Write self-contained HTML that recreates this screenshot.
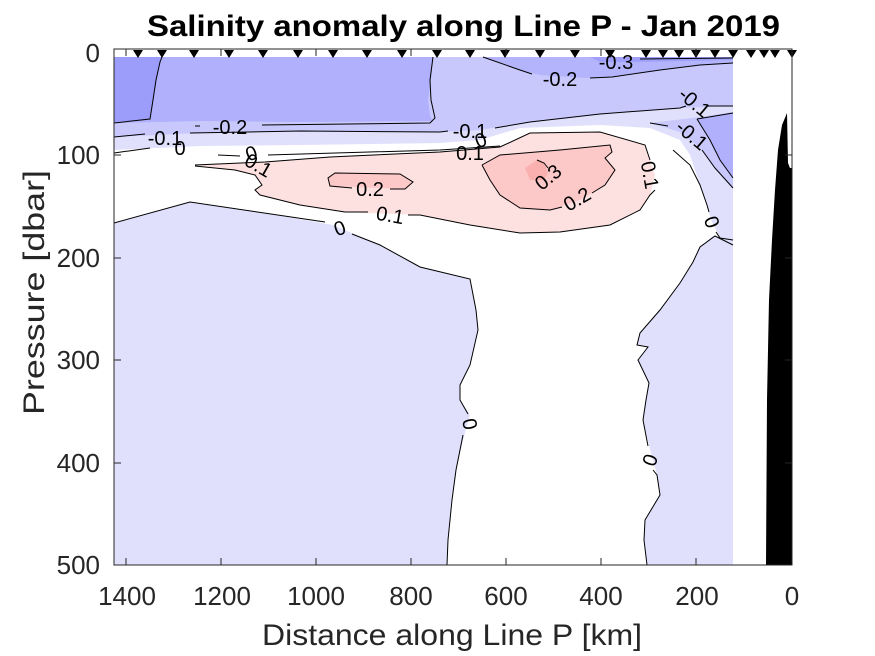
<!DOCTYPE html>
<html><head><meta charset="utf-8"><style>
html,body{margin:0;padding:0;background:#fff;}
svg{display:block;font-family:"Liberation Sans",Arial,sans-serif;}
</style></head><body>
<svg width="875" height="656" viewBox="0 0 875 656" xmlns="http://www.w3.org/2000/svg">
<rect width="875" height="656" fill="#fff"/>
<rect x="114" y="57" width="619" height="508" fill="#e0e0fc"/>
<polygon fill="#ffffff" points="114,150 200,146 300,145 440,143 480,140 520,128 600,125 650,128 680,140 690,155 700,185 712,222 720,238 713,236 700,247 693,262 680,283 660,310 640,333 637,345 648,347 638,360 649,383 646,400 643,420 651,453 657,475 660,495 645,520 644,540 647,565 447,565 448,540 452,500 456,470 463,440 470,415 460,400 460,385 470,365 478,330 476,310 470,279 420,267 380,245 333,225 260,212 190,202 114,223"/>
<polygon fill="#fde0e0" points="195,165 265,162 330,157 440,152 500,147 530,133 600,132 645,145 650,160 655,175 650,195 640,210 610,225 560,232 520,233 470,225 420,215 345,212 300,205 260,195 255,190 262,185 255,175 235,170"/>
<polygon fill="#fcc8c8" points="328,178 335,173 400,174 413,182 405,189 330,186"/>
<polygon fill="#fcc8c8" points="482,165 500,155 560,150 610,145 612,152 605,158 615,170 605,185 580,200 550,210 520,208 500,195 490,180"/>
<polygon fill="#fbb0b0" points="525,168 537,160 544,163 548,173 544,180 530,180"/>
<polygon fill="#c8c8fc" points="114,57 733,57 733,106 680,108 600,114 530,122 480,130 440,132 300,131 200,133 114,137"/>
<polygon fill="#c8c8fc" points="650,123 700,117 733,112 733,188 715,168 700,148 680,132"/>
<polygon fill="#b0b0fc" points="697,119 733,113 733,178 720,160 710,140"/>
<polygon fill="#b0b0fc" points="114,57 433,57 431,80 428,100 430,115 432,121 300,122 200,121 114,123"/>
<polygon fill="#b4b4fc" points="483,57 733,57 733,63 700,65 660,70 612,77 585,78 540,75 520,70"/>
<polygon fill="#9c9cfa" points="114,57 162,57 158,70 156,85 153,100 150,119 114,122"/>
<polygon fill="#a0a0fa" points="590,57 733,57 733,60 640,62 600,62"/>
<g fill="none" stroke="#000" stroke-width="1">
<polyline points="114,223 190,202 325,222"/>
<polyline points="352,234 380,245 420,267 470,279 476,310 478,330 470,365 460,385 460,400 468,414"/>
<polyline points="463,435 456,470 452,500 448,540 447,565"/>
<polyline points="733,245 715,236 700,247 693,262 680,283 660,310 640,333 637,345 648,347 638,360 649,383 646,400 643,420 648,446"/>
<polyline points="653,470 657,475 660,495 645,520 644,540 647,565"/>
<polyline points="673,150 690,165 700,185 707,205 709,212"/>
<polyline points="716,232 720,238 733,240"/>
<polyline points="195,165 265,162 330,157 440,152 500,147 530,133 600,132 645,145 650,160"/>
<polyline points="655,190 650,195 640,210 610,225 560,232 520,233 470,225 420,215 408,215"/>
<polyline points="368,212 345,212 300,205 260,195 255,190 262,185 255,175 235,170 195,166"/>
<polyline points="352,188 330,186 328,178 335,173 400,174 413,182 405,189 390,189"/>
<polyline points="482,165 500,155 560,150 610,145 612,152 605,158 615,170 605,185 592,193"/>
<polyline points="562,207 550,210 520,208 500,195 490,180 482,165"/>
<polyline points="537,160 544,163 548,168"/>
<polyline points="114,153 150,148"/>
<polyline points="218,155 240,156"/>
<polyline points="268,155 440,150 500,146"/>
<polyline points="114,137 145,134"/>
<polyline points="190,133 300,131 440,132 448,131"/>
<polyline points="495,128 530,122 600,114 680,108 686,106"/>
<polyline points="707,106 733,106"/>
<polyline points="650,123 668,126"/>
<polyline points="697,119 733,113"/>
<polyline points="697,119 710,140 720,160 733,178"/>
<polyline points="733,188 715,168 702,150"/>
<polyline points="114,123 150,119 153,100 156,80 160,62 162,57"/>
<polyline points="195,126 200,126"/>
<polyline points="262,125 430,123 435,118 431,100 430,80 433,57"/>
<polyline points="483,57 520,70 532,74"/>
<polyline points="590,78 612,77 660,70 700,65 733,63"/>
<polyline points="640,59 733,58"/>
</g>
<g font-size="20" fill="#000" text-anchor="middle">
<text x="165" y="145">-0.1</text>
<text x="230" y="134">-0.2</text>
<text x="180" y="155">0</text>
<text x="258" y="172" transform="rotate(30 258 166)">0.1</text>
<text x="252" y="160" transform="rotate(-20 252 155)">0</text>
<text x="370" y="196">0.2</text>
<text x="390" y="222" transform="rotate(10 390 216)">0.1</text>
<text x="340" y="235" transform="rotate(-20 340 229)">0</text>
<text x="470" y="138">-0.1</text>
<text x="481" y="147" transform="rotate(-20 481 141)">0</text>
<text x="470" y="160">0.1</text>
<text x="560" y="86">-0.2</text>
<text x="616" y="69">-0.3</text>
<text x="548" y="184" transform="rotate(-40 548 177)">0.3</text>
<text x="577" y="206" transform="rotate(-30 577 199)">0.2</text>
<text x="650" y="182" transform="rotate(80 650 175)">0.1</text>
<text x="694" y="109" transform="rotate(40 694 103)">-0.1</text>
<text x="692" y="142" transform="rotate(40 692 135)">-0.1</text>
<text x="712" y="229" transform="rotate(70 712 222)">0</text>
<text x="470" y="431" transform="rotate(80 470 424)">0</text>
<text x="650" y="467" transform="rotate(-70 650 460)">0</text>
</g>
<polygon fill="#000" points="787,113 788,163 790,168 792,168 792,565 766,565 767,400 769,300 772,240 775,190 778,150 782,125"/>
<g fill="#000">
<polygon points="133,50 143,50 138,58"/><polygon points="157,50 167,50 162,58"/><polygon points="189,50 199,50 194,58"/><polygon points="224,50 234,50 229,58"/><polygon points="258,50 268,50 263,58"/><polygon points="293,50 303,50 298,58"/><polygon points="328,50 338,50 333,58"/><polygon points="362,50 372,50 367,58"/><polygon points="397,50 407,50 402,58"/><polygon points="432,50 442,50 437,58"/><polygon points="465,50 475,50 470,58"/><polygon points="500,50 510,50 505,58"/><polygon points="535,50 545,50 540,58"/><polygon points="570,50 580,50 575,58"/><polygon points="605,50 615,50 610,58"/><polygon points="641,50 651,50 646,58"/><polygon points="658,50 668,50 663,58"/><polygon points="674,50 684,50 679,58"/><polygon points="691,50 701,50 696,58"/><polygon points="710,50 720,50 715,58"/><polygon points="728,50 738,50 733,58"/><polygon points="746,50 756,50 751,58"/><polygon points="759,50 769,50 764,58"/><polygon points="770,50 780,50 775,58"/><polygon points="787,50 797,50 792,58"/>
</g>
<g stroke="#262626" stroke-width="1" fill="none">
<rect x="114" y="49" width="678" height="516"/>
<path d="M126,565v-7M221,565v-7M316,565v-7M411,565v-7M506,565v-7M601,565v-7M696,565v-7M126,49v7M221,49v7M316,49v7M411,49v7M506,49v7M601,49v7M696,49v7M114,155h7M114,258h7M114,360h7M114,463h7M792,155h-7M792,258h-7M792,360h-7M792,463h-7"/>
</g>
<g font-size="26" fill="#262626">
<g text-anchor="end">
<text x="100" y="62">0</text><text x="100" y="164">100</text><text x="100" y="267">200</text><text x="100" y="369">300</text><text x="100" y="472">400</text><text x="100" y="574">500</text>
</g>
<g text-anchor="middle">
<text x="127" y="605">1400</text><text x="222" y="605">1200</text><text x="316" y="605">1000</text><text x="411" y="605">800</text><text x="506" y="605">600</text><text x="601" y="605">400</text><text x="697" y="605">200</text><text x="792" y="605">0</text>
</g>
<text x="262" y="645" font-size="30" textLength="380" lengthAdjust="spacingAndGlyphs">Distance along Line P [km]</text>
<text x="0" y="0" font-size="30" transform="translate(44 415) rotate(-90)" textLength="245" lengthAdjust="spacingAndGlyphs">Pressure [dbar]</text>
</g>
<text x="147" y="36" font-size="30" font-weight="bold" fill="#000" textLength="633" lengthAdjust="spacingAndGlyphs">Salinity anomaly along Line P - Jan 2019</text>
</svg>
</body></html>
